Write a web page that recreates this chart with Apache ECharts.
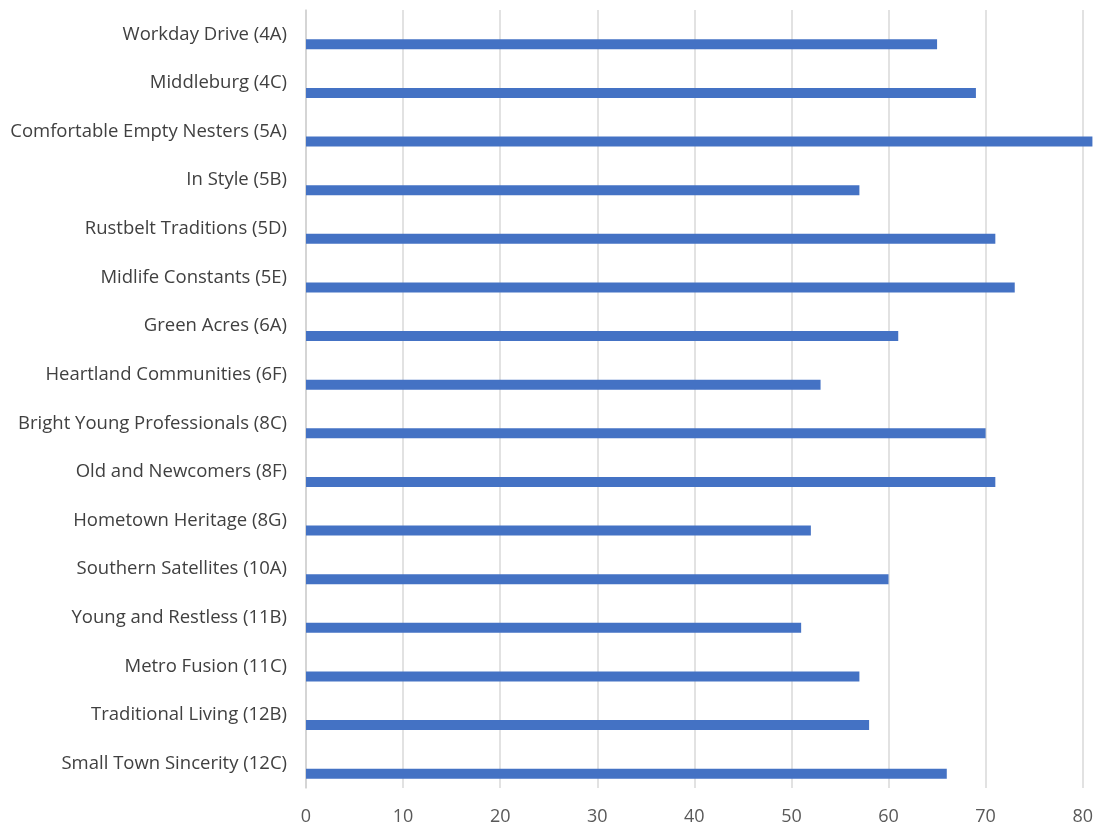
<!DOCTYPE html>
<html><head><meta charset="utf-8">
<script src="https://cdn.jsdelivr.net/npm/echarts@6/dist/echarts.min.js"></script>
<style>html,body{margin:0;padding:0;background:#fff}#c{width:1096px;height:827px}</style>
</head><body><div id="c"></div>
<script>
const categories = [
  "Workday Drive (4A)", "Middleburg (4C)", "Comfortable Empty Nesters (5A)", "In Style (5B)",
  "Rustbelt Traditions (5D)", "Midlife Constants (5E)", "Green Acres (6A)", "Heartland Communities (6F)",
  "Bright Young Professionals (8C)", "Old and Newcomers (8F)", "Hometown Heritage (8G)",
  "Southern Satellites (10A)", "Young and Restless (11B)", "Metro Fusion (11C)",
  "Traditional Living (12B)", "Small Town Sincerity (12C)"
];
const values = [65, 69, 81, 57, 71, 73, 61, 53, 70, 71, 52, 60, 51, 57, 58, 66];
const xTicks = [0, 10, 20, 30, 40, 50, 60, 70, 80];

const chart = echarts.init(document.getElementById('c'));
const font = 'Open Sans, Lato, sans-serif';
chart.setOption({
  animation: false,
  backgroundColor: '#fff',
  grid: { left: 306, right: 13, top: 10, bottom: 39, containLabel: false },
  xAxis: {
    type: 'value', min: xTicks[0], max: xTicks[xTicks.length - 1], interval: 10,
    axisLine: { show: false }, axisTick: { show: false },
    splitLine: { lineStyle: { color: '#d9d9d9', width: 1.5 } },
    axisLabel: { color: '#595959', fontSize: 18, fontFamily: font, margin: 20 }
  },
  yAxis: {
    type: 'category', data: categories, inverse: true,
    axisLine: { show: true, lineStyle: { color: '#d0d0d0', width: 1.5 } },
    axisTick: { show: false },
    axisLabel: { color: '#404040', fontSize: 18.5, fontFamily: font, margin: 19 }
  },
  series: [
    { type: 'bar', data: [], barWidth: 10, barGap: '100%' },
    { type: 'bar', data: values, barWidth: 10, barGap: '100%', clip: false,
      itemStyle: { color: '#4472C4' } }
  ]
});
</script></body></html>
